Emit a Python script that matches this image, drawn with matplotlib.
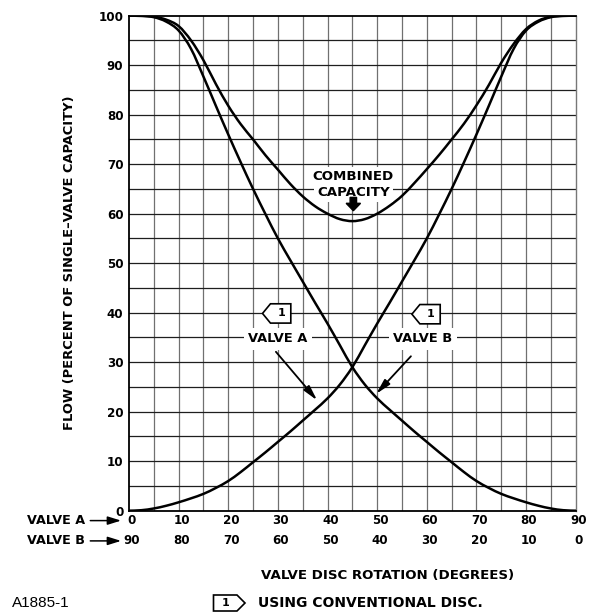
import matplotlib
matplotlib.use("Agg")
import matplotlib.pyplot as plt
from matplotlib.patches import Polygon, PathPatch
from matplotlib.path import Path

# ---------------- data ----------------
rotation_deg = [0, 2.5, 5, 7.5, 10, 12.5, 15, 17.5, 20, 22.5, 25, 27.5, 30, 32.5, 35,
                37.5, 40, 42.5, 45, 47.5, 50, 52.5, 55, 57.5, 60, 62.5, 65, 67.5,
                70, 72.5, 75, 77.5, 80, 82.5, 85, 87.5, 90]
# descending curve (labelled VALVE B)
valve_b_flow = [100, 99.95, 99.7, 98.8, 97.0, 93.3, 87.7, 81.8, 76.0, 70.4, 65.0, 59.9,
                55.0, 50.6, 46.3, 42.0, 37.8, 33.4, 29.0, 25.5, 22.7, 20.4, 18.2, 16.0,
                13.9, 11.8, 9.8, 7.8, 6.0, 4.6, 3.4, 2.5, 1.7, 1.0, 0.45, 0.1, 0]
# ascending curve (labelled VALVE A)
valve_a_flow = [0, 0.1, 0.45, 1.0, 1.7, 2.5, 3.4, 4.6, 6.0, 7.8, 9.8, 11.8, 13.9, 16.0,
                18.2, 20.4, 22.7, 25.5, 29.0, 33.4, 37.8, 42.0, 46.3, 50.6, 55.0, 59.9,
                65.0, 70.4, 76.0, 81.8, 87.7, 93.3, 97.0, 98.8, 99.7, 99.95, 100]
combined_flow = [100, 100, 99.8, 99.2, 97.9, 95.0, 91.0, 86.2, 81.8, 78.1, 75.0, 71.8,
                 68.9, 66.0, 63.5, 61.5, 60.0, 58.9, 58.5, 58.9, 60.0, 61.6, 63.6, 66.2,
                 69.0, 71.9, 75.0, 78.2, 81.9, 86.0, 90.5, 94.3, 97.3, 99.0, 99.8, 100, 100]

y_ticks = [0, 10, 20, 30, 40, 50, 60, 70, 80, 90, 100]
valve_a_ticks = [0, 10, 20, 30, 40, 50, 60, 70, 80, 90]
valve_b_labels = ["90", "80", "70", "60", "50", "40", "30", "20", "10", "0"]

# ---------------- figure ----------------
plt.rcParams['font.family'] = ['DejaVu Sans']
W, H = 593, 613
fig = plt.figure(figsize=(W / 100, H / 100), dpi=100)
fig.patch.set_facecolor('white')

L, R, T, B = 129, 575.7, 15.7, 510.7
ax = fig.add_axes([L / W, 1 - B / H, (R - L) / W, (B - T) / H])
ax.set_xlim(0, 90)
ax.set_ylim(0, 100)

# grid
for xv in range(5, 90, 5):
    ax.axvline(xv, color='#707070', lw=0.9, zorder=1)
for yv in range(5, 100, 5):
    ax.axhline(yv, color='#1e1e1e', lw=0.9, zorder=1)

ax.set_xticks([])
ax.set_yticks(y_ticks)
ax.set_yticklabels([str(v) for v in y_ticks], fontsize=8.6, fontweight='bold')
ax.tick_params(axis='y', length=0, pad=4)

for s in ['left', 'top', 'bottom']:
    ax.spines[s].set_color('black')
    ax.spines[s].set_linewidth(1.3)
ax.spines['right'].set_color('#777777')
ax.spines['right'].set_linewidth(1.0)


def smooth_curve(xs, ys):
    """Smooth drawing path through the read points (Catmull-Rom as cubic Bezier)."""
    pts = list(zip(xs, ys))
    verts = [pts[0]]
    codes = [Path.MOVETO]
    n = len(pts)
    for i in range(n - 1):
        p0 = pts[i - 1] if i > 0 else pts[i]
        p1 = pts[i]
        p2 = pts[i + 1]
        p3 = pts[i + 2] if i + 2 < n else pts[i + 1]
        c1 = (p1[0] + (p2[0] - p0[0]) / 6.0, p1[1] + (p2[1] - p0[1]) / 6.0)
        c2 = (p2[0] - (p3[0] - p1[0]) / 6.0, p2[1] - (p3[1] - p1[1]) / 6.0)
        verts += [c1, c2, p2]
        codes += [Path.CURVE4, Path.CURVE4, Path.CURVE4]
    ax.add_patch(PathPatch(Path(verts, codes), facecolor='none', edgecolor='black',
                           lw=1.8, zorder=4, capstyle='round', joinstyle='round'))


smooth_curve(rotation_deg, valve_b_flow)
smooth_curve(rotation_deg, valve_a_flow)
smooth_curve(rotation_deg, combined_flow)

bold = dict(fontweight='bold', color='black')
wbox = dict(facecolor='white', edgecolor='none', pad=2.0)

# combined capacity label
ax.text(45.2, 67.6, "COMBINED", ha='center', va='center', fontsize=9.6, zorder=5,
        bbox=wbox, **bold)
ax.text(45.2, 64.3, "CAPACITY", ha='center', va='center', fontsize=9.6, zorder=5,
        bbox=wbox, **bold)
ax.arrow(45.2, 63.3, 0, -2.7, width=1.3, head_width=2.9, head_length=1.5,
         length_includes_head=True, color='black', zorder=6)

# valve labels
ax.text(30.0, 34.7, "VALVE A", ha='center', va='center', fontsize=9.4, zorder=5,
        bbox=dict(facecolor='white', edgecolor='none', pad=3.0), **bold)
ax.text(59.2, 34.7, "VALVE B", ha='center', va='center', fontsize=9.4, zorder=5,
        bbox=dict(facecolor='white', edgecolor='none', pad=3.0), **bold)

arrowkw = dict(arrowstyle='-|>,head_length=0.9,head_width=0.22', color='black',
               lw=1.3, shrinkA=0, shrinkB=0)
ax.annotate('', xy=(37.9, 22.3), xytext=(29.6, 32.1), arrowprops=arrowkw, zorder=6)
ax.annotate('', xy=(49.8, 23.6), xytext=(56.8, 31.2), arrowprops=arrowkw, zorder=6)


# tags "<1"
def tag_left(x0, yc):
    pts = [(x0, yc), (x0 + 1.6, yc + 1.95), (x0 + 5.7, yc + 1.95),
           (x0 + 5.7, yc - 1.95), (x0 + 1.6, yc - 1.95)]
    ax.add_patch(Polygon(pts, closed=True, facecolor='white', edgecolor='black',
                         lw=1.2, zorder=5))
    ax.text(x0 + 3.75, yc, "1", ha='center', va='center', fontsize=8, zorder=6, **bold)


tag_left(26.9, 39.85)
tag_left(57.0, 39.7)

# bottom scale rows
for xv, lb in zip(valve_a_ticks, valve_b_labels):
    ax.text(xv + 0.6, -2.0, str(xv), ha='center', va='center', fontsize=8.6,
            clip_on=False, **bold)
    ax.text(xv + 0.6, -6.1, lb, ha='center', va='center', fontsize=8.6,
            clip_on=False, **bold)

ax.text(-14.7, -2.0, "VALVE A", ha='center', va='center', fontsize=9.2,
        clip_on=False, **bold)
ax.text(-14.7, -6.1, "VALVE B", ha='center', va='center', fontsize=9.2,
        clip_on=False, **bold)
arrow2 = dict(arrowstyle='-|>,head_length=0.8,head_width=0.25', color='black',
              lw=1.1, shrinkA=0, shrinkB=0)
for yy in (-2.0, -6.1):
    ax.annotate('', xy=(-1.6, yy), xytext=(-7.8, yy), arrowprops=arrow2,
                annotation_clip=False)

# axis titles
ax.set_ylabel("FLOW (PERCENT OF SINGLE\u2013VALVE CAPACITY)", fontsize=9.4,
              fontweight='bold', labelpad=16)
fig.text(388 / W, 1 - 575 / H, "VALVE DISC ROTATION (DEGREES)", ha='center',
         va='center', fontsize=9.6, **bold)

# footnote
fig.text(12 / W, 1 - 603 / H, "A1885-1", ha='left', va='center', fontsize=11,
         family='Liberation Sans', color='black')
fx0, fx1, ftip, fy0, fy1 = 213.5, 237, 245, 595, 611
pts = [(fx0 / W, 1 - fy0 / H), (fx1 / W, 1 - fy0 / H), (ftip / W, 1 - (fy0 + fy1) / 2 / H),
       (fx1 / W, 1 - fy1 / H), (fx0 / W, 1 - fy1 / H)]
fig.patches.append(Polygon(pts, closed=True, facecolor='white', edgecolor='black',
                           lw=1.2, transform=fig.transFigure))
fig.text(226 / W, 1 - 603 / H, "1", ha='center', va='center', fontsize=8, **bold)
fig.text(258 / W, 1 - 603 / H, "USING CONVENTIONAL DISC.", ha='left', va='center',
         fontsize=10.0, **bold)

fig.savefig("out.png", dpi=100, facecolor='white')
